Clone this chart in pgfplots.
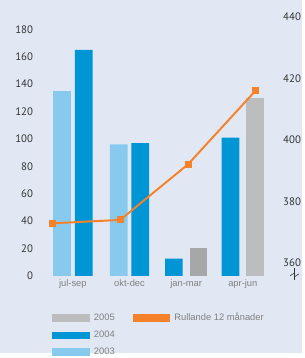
\documentclass[border=0pt]{standalone}
\usepackage{pgfplots}
\pgfplotsset{compat=1.18}
\usepackage{fontspec}
\setmainfont{Liberation Sans}
\newfontfamily\tickfont{PT Sans}
\definecolor{bg}{HTML}{E1E8F4}
\definecolor{cA}{HTML}{88CAEE}
\definecolor{cB}{HTML}{0096D6}
\definecolor{cC}{HTML}{BCBDBF}
\definecolor{cD}{HTML}{A6A7A9}
\definecolor{cO}{HTML}{F5822A}
\definecolor{ticktxt}{HTML}{333333}
\definecolor{lgtxt}{HTML}{808080}
\begin{document}
\begin{tikzpicture}
\fill[bg] (0,0) rectangle (307pt,358pt);
\begin{axis}[
  at={(37pt,78pt)}, anchor=south west,
  scale only axis, width=247pt, height=264pt,
  xmin=-0.643, xmax=3.652, ymin=0, ymax=190,
  axis line style={draw=none}, tick style={draw=none},
  xtick={0,1,2,3}, xticklabels={jul-sep,okt-dec,jan-mar,apr-jun},
  xticklabel style={font=\fontsize{9.5}{10}\selectfont, text=lgtxt},
  ytick={0,20,...,180},
  yticklabel style={font=\tickfont\fontsize{11}{11}\selectfont, text=ticktxt},
  /pgf/number format/assume math mode=true,
]
\addplot[ybar, bar width=18pt, bar shift=0pt, fill=cA, draw=none] coordinates {(-0.19,135) (0.81,96)};
\addplot[ybar, bar width=18pt, bar shift=0pt, fill=cB, draw=none] coordinates {(0.19,165) (1.19,97) (1.783,12.5) (2.783,101)};
\addplot[ybar, bar width=18pt, bar shift=0pt, fill=cD, draw=none] coordinates {(2.217,20)};
\addplot[ybar, bar width=18pt, bar shift=0pt, fill=cC, draw=none] coordinates {(3.217,130)};
\end{axis}
\begin{axis}[
  at={(37pt,78pt)}, anchor=south west,
  scale only axis, width=247pt, height=264pt,
  xmin=-0.643, xmax=3.652, ymin=355.84, ymax=440.32,
  hide x axis, axis y line*=right,
  axis line style={draw=none}, tick style={draw=none},
  ytick={360,380,...,440},
  yticklabel style={font=\tickfont\fontsize{11}{11}\selectfont, text=ticktxt},
  /pgf/number format/assume math mode=true,
  legend columns=2,
  legend style={at={(rel axis cs:0,0)}, anchor=north west, xshift=16pt, yshift=-36pt,
    draw=none, fill=none, inner sep=0pt, outer sep=0pt,
    font=\fontsize{9.5}{10}\selectfont, text=lgtxt,
    row sep=5pt,
    /tikz/every even column/.append style={column sep=16pt}},
]
\addplot[forget plot, cO, line width=2pt, mark=square*, mark size=2.6pt, mark options={fill=cO, draw=cO}] coordinates {(-0.36,372.9) (0.835,374.0) (2.035,392.1) (3.23,416.1)};
\addlegendimage{legend image code/.code={\fill[cC] (0pt,-3.5pt) rectangle (37pt,3.5pt); \path (40pt,0pt);}}
\addlegendentry{2005}
\addlegendimage{legend image code/.code={\fill[cO] (0pt,-3.5pt) rectangle (37pt,3.5pt); \path (40pt,0pt);}}
\addlegendentry{Rullande 12 månader}
\addlegendimage{legend image code/.code={\fill[cB] (0pt,-3.5pt) rectangle (37pt,3.5pt); \path (40pt,0pt);}}
\addlegendentry{2004}
\addlegendimage{empty legend}
\addlegendentry{}
\addlegendimage{legend image code/.code={\fill[cA] (0pt,-3.5pt) rectangle (37pt,3.5pt); \path (40pt,0pt);}}
\addlegendentry{2003}
\addlegendimage{empty legend}
\addlegendentry{}
\end{axis}
\draw[ticktxt, line width=0.6pt] (299pt,86pt) -- (299pt,74pt);
\draw[ticktxt, line width=0.6pt] (294.5pt,78pt) -- (299pt,81pt) -- (299pt,77pt) -- (303.5pt,80pt);
\end{tikzpicture}
\end{document}
